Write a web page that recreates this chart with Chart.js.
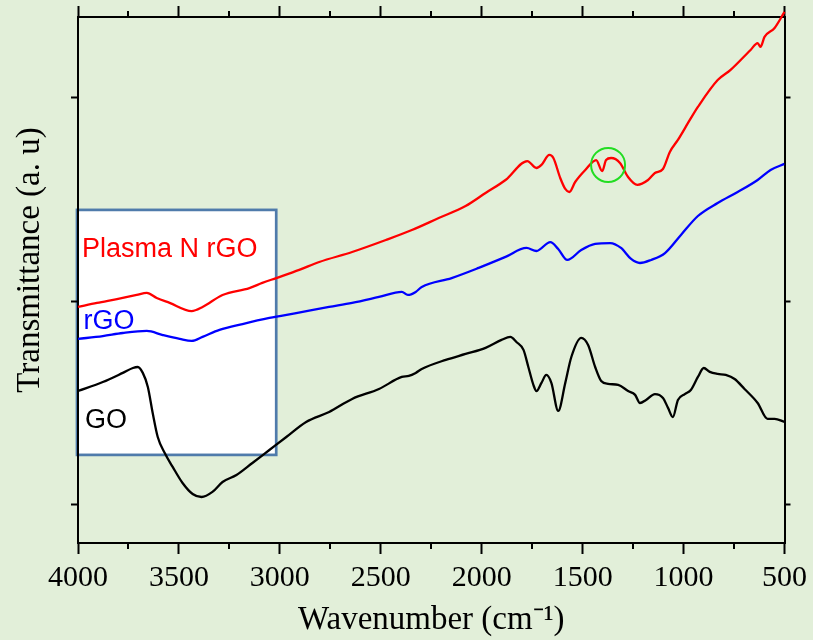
<!DOCTYPE html>
<html>
<head>
<meta charset="utf-8">
<script src="https://cdn.jsdelivr.net/npm/chart.js@4"></script>
<style>
  html, body { margin: 0; padding: 0; background: #e2efd9; }
  canvas { display: block; }
</style>
</head>
<body>
<canvas id="ftir" width="813" height="640"></canvas>
<script>
// FTIR spectra, wavenumber (cm-1) vs transmittance (arbitrary units, offset curves)
const goWn = [4000, 3877, 3778, 3728, 3704, 3679, 3654, 3630, 3605, 3571, 3531, 3482, 3432, 3388, 3334, 3284, 3215, 3136, 3052, 2968, 2870, 2756, 2642, 2509, 2396, 2361, 2327, 2297, 2178, 2080, 1981, 1902, 1858, 1828, 1793, 1769, 1744, 1729, 1704, 1680, 1655, 1621, 1586, 1556, 1507, 1473, 1438, 1408, 1374, 1324, 1275, 1240, 1216, 1186, 1142, 1102, 1077, 1053, 1028, 994, 964, 929, 900, 870, 831, 791, 747, 698, 633, 584, 549, 500];
const goT = [0.560, 0.604, 0.649, 0.673, 0.678, 0.649, 0.580, 0.452, 0.334, 0.256, 0.187, 0.108, 0.054, 0.039, 0.064, 0.113, 0.147, 0.206, 0.270, 0.334, 0.408, 0.457, 0.521, 0.570, 0.629, 0.634, 0.649, 0.668, 0.713, 0.742, 0.772, 0.811, 0.826, 0.801, 0.762, 0.678, 0.590, 0.560, 0.600, 0.639, 0.600, 0.462, 0.600, 0.727, 0.821, 0.786, 0.678, 0.609, 0.595, 0.590, 0.560, 0.541, 0.501, 0.516, 0.545, 0.526, 0.477, 0.432, 0.516, 0.545, 0.565, 0.629, 0.673, 0.654, 0.644, 0.639, 0.619, 0.570, 0.501, 0.423, 0.423, 0.408];

const rgoWn = [4000, 3877, 3778, 3659, 3580, 3496, 3437, 3383, 3299, 3185, 3052, 2919, 2756, 2642, 2509, 2396, 2366, 2327, 2297, 2149, 2015, 1882, 1778, 1729, 1660, 1621, 1576, 1507, 1438, 1364, 1310, 1260, 1216, 1161, 1092, 1013, 929, 831, 732, 633, 569, 500];
const rgoT = [0.816, 0.830, 0.845, 0.855, 0.835, 0.816, 0.806, 0.826, 0.860, 0.889, 0.919, 0.943, 0.973, 0.993, 1.022, 1.047, 1.032, 1.047, 1.071, 1.115, 1.165, 1.219, 1.263, 1.248, 1.292, 1.258, 1.204, 1.253, 1.283, 1.287, 1.263, 1.209, 1.189, 1.204, 1.238, 1.327, 1.420, 1.484, 1.538, 1.597, 1.646, 1.676];

const nrgoWn = [4000, 3906, 3807, 3709, 3659, 3610, 3546, 3437, 3383, 3284, 3151, 3087, 3018, 2904, 2805, 2642, 2475, 2346, 2213, 2080, 1981, 1882, 1774, 1729, 1704, 1665, 1645, 1611, 1586, 1566, 1537, 1487, 1433, 1403, 1384, 1359, 1315, 1275, 1229, 1176, 1142, 1102, 1068, 1028, 969, 929, 831, 767, 668, 633, 619, 599, 549, 500];
const nrgoT = [0.973, 0.993, 1.012, 1.032, 1.042, 1.017, 0.993, 0.953, 0.973, 1.032, 1.066, 1.091, 1.115, 1.155, 1.194, 1.243, 1.302, 1.351, 1.410, 1.469, 1.533, 1.597, 1.690, 1.656, 1.671, 1.720, 1.705, 1.607, 1.553, 1.538, 1.587, 1.646, 1.695, 1.641, 1.695, 1.705, 1.681, 1.612, 1.573, 1.597, 1.631, 1.651, 1.735, 1.794, 1.892, 1.956, 2.088, 2.138, 2.236, 2.270, 2.251, 2.300, 2.344, 2.423];

const seriesNames = ["Plasma N rGO", "rGO", "GO"];
const seriesColors = ["#ff0000", "#0000ff", "#000000"];
const labelT = [1.219, 0.865, 0.378];   // where the names sit inside the box

const xTickStep = 250;
const xLabelStep = 500;
const yTickValues = [0, 1, 2];

// white label box and the green marker, in data units
const boxWn = [4005, 3018];
const boxT = [1.450, 0.246];
const markWn = 1374;
const markT = 1.671;

function toPoints(wn, t) {
  return wn.map((w, i) => ({ x: w, y: t[i] }));
}

const serif = "'Liberation Serif', 'Times New Roman', serif";
const sans = "'Liberation Sans', Arial, sans-serif";

const labelBox = {
  id: "labelBox",
  beforeDraw(chart) {
    const { ctx, scales: { x, y } } = chart;
    const l = x.getPixelForValue(boxWn[0]);
    const r = x.getPixelForValue(boxWn[1]);
    const t = y.getPixelForValue(boxT[0]);
    const b = y.getPixelForValue(boxT[1]);
    ctx.save();
    ctx.fillStyle = "#ffffff";
    ctx.fillRect(l, t, r - l, b - t);
    ctx.strokeStyle = "#4f7bab";
    ctx.lineWidth = 2.7;
    ctx.strokeRect(l, t, r - l, b - t);
    ctx.restore();
  },
  afterDatasetsDraw(chart) {
    const { ctx, scales: { x, y } } = chart;
    ctx.save();
    ctx.font = "27px " + sans;
    ctx.textBaseline = "alphabetic";
    seriesNames.forEach((name, i) => {
      ctx.fillStyle = seriesColors[i];
      ctx.fillText(name, chart.chartArea.left + 4 + i * 1.5, y.getPixelForValue(labelT[i]));
    });
    // green circle around the ~1380 cm-1 band
    ctx.strokeStyle = "#22dd22";
    ctx.lineWidth = 2;
    ctx.beginPath();
    ctx.arc(x.getPixelForValue(markWn), y.getPixelForValue(markT), 17, 0, Math.PI * 2);
    ctx.stroke();
    ctx.restore();
  },
  afterDraw(chart) {
    const ctx = chart.ctx;
    ctx.save();
    // minor ticks on top and bottom axes
    ctx.strokeStyle = "#000";
    ctx.lineWidth = 2;
    ["x", "x2"].forEach(id => {
      const s = chart.scales[id];
      s.ticks.forEach(tk => {
        if (tk.value % xLabelStep === 0) return;
        const px = Math.round(s.getPixelForValue(tk.value));
        const edge = id === "x" ? s.top : s.bottom;
        const dir = id === "x" ? 1 : -1;
        ctx.beginPath();
        ctx.moveTo(px, edge);
        ctx.lineTo(px, edge + dir * 6);
        ctx.stroke();
      });
    });
    // y axis title
    ctx.translate(30, 260);
    ctx.rotate(-Math.PI / 2);
    ctx.font = "33px " + serif;
    ctx.fillStyle = "#000";
    ctx.textAlign = "center";
    ctx.textBaseline = "middle";
    ctx.fillText("Transmittance (a. u)", 0, 0);
    ctx.restore();
  }
};

const majorTickColor = c => (c.tick && c.tick.value % xLabelStep === 0) ? "#000" : "rgba(0,0,0,0)";
const axisBorder = { display: true, color: "#000", width: 2 };

new Chart(document.getElementById("ftir"), {
  type: "line",
  data: {
    datasets: [
      { label: seriesNames[0], data: toPoints(nrgoWn, nrgoT), borderColor: seriesColors[0], clip: 8 },
      { label: seriesNames[1], data: toPoints(rgoWn, rgoT), borderColor: seriesColors[1] },
      { label: seriesNames[2], data: toPoints(goWn, goT), borderColor: seriesColors[2] }
    ].map(d => Object.assign(d, {
      borderWidth: 2.3,
      pointRadius: 0,
      fill: false,
      cubicInterpolationMode: "monotone",
      xAxisID: "x",
      yAxisID: "y"
    }))
  },
  options: {
    responsive: false,
    animation: false,
    layout: { padding: 0 },
    plugins: { legend: { display: false }, tooltip: { enabled: false } },
    scales: {
      x: {
        type: "linear",
        position: "bottom",
        reverse: true,
        min: 500,
        max: 4000,
        afterFit: s => { s.height = 97; },
        border: axisBorder,
        grid: { drawOnChartArea: false, tickLength: 11, tickWidth: 2, tickColor: majorTickColor },
        ticks: {
          stepSize: xTickStep,
          autoSkip: false,
          maxRotation: 0,
          padding: 6,
          color: "#000",
          font: { family: serif, size: 30 },
          callback: v => (v % xLabelStep === 0 ? String(v) : "")
        },
        title: {
          display: true,
          text: "Wavenumber (cm\u207B\u00B9)",
          color: "#000",
          font: { family: serif, size: 33 },
          padding: 0
        }
      },
      x2: {
        type: "linear",
        position: "top",
        reverse: true,
        min: 500,
        max: 4000,
        afterFit: s => { s.height = 17; },
        border: axisBorder,
        grid: { drawOnChartArea: false, tickLength: 11, tickWidth: 2, tickColor: majorTickColor },
        ticks: { stepSize: xTickStep, autoSkip: false, display: false }
      },
      y: {
        type: "linear",
        position: "left",
        min: -0.187,
        max: 2.398,
        afterFit: s => { s.width = 78; },
        afterBuildTicks: s => { s.ticks = yTickValues.map(v => ({ value: v })); },
        border: axisBorder,
        grid: { drawOnChartArea: false, tickLength: 7, tickWidth: 2, tickColor: "#000" },
        ticks: { display: false }
      },
      y2: {
        type: "linear",
        position: "right",
        min: -0.187,
        max: 2.398,
        afterFit: s => { s.width = 25; },
        afterBuildTicks: s => { s.ticks = yTickValues.map(v => ({ value: v })); },
        border: axisBorder,
        grid: { drawOnChartArea: false, tickLength: 6, tickWidth: 2, tickColor: "#000" },
        ticks: { display: false }
      }
    }
  },
  plugins: [labelBox]
});
</script>
</body>
</html>
